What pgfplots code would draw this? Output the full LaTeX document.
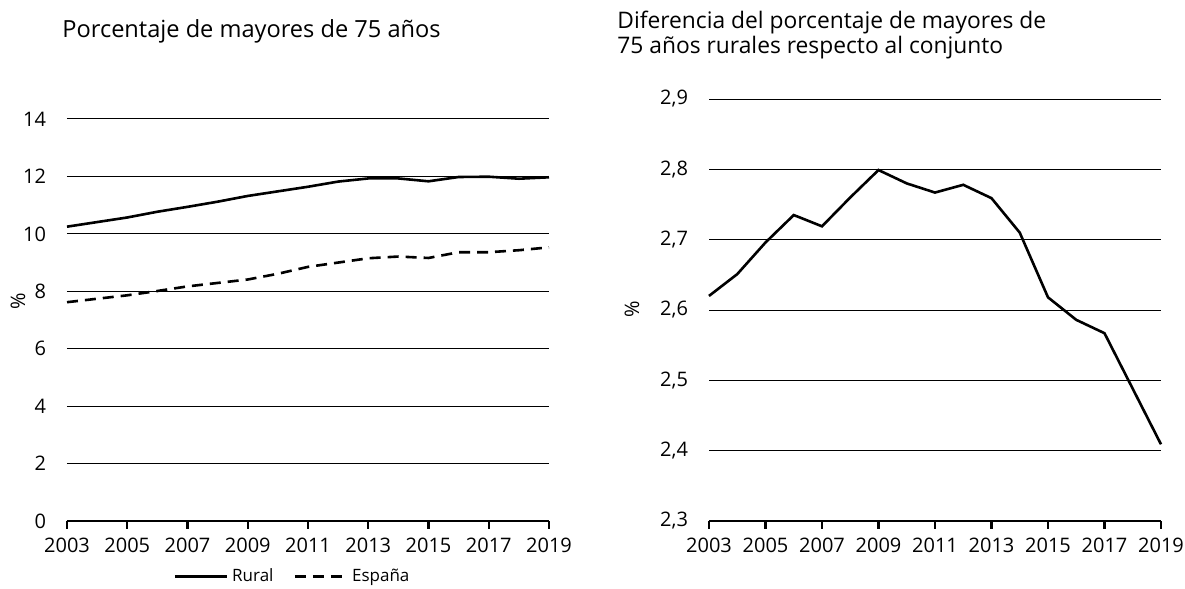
\documentclass[border=0pt]{standalone}
\usepackage{pgfplots}
\pgfplotsset{compat=1.18}
\usepackage{fontspec}
\setmainfont{Open Sans}
\begin{document}
\begin{tikzpicture}
\useasboundingbox (0,0) rectangle (592.5pt,294.5pt);
\pgfplotsset{
  mystyle/.style={
    scale only axis,
    anchor=south west,
    axis x line*=bottom,
    axis y line*=left,
    y axis line style={draw=none},
    every outer x axis line/.append style={line width=1.2pt},
    x axis line style={line width=1.2pt},
    xtick={2003,2005,...,2019},
    xmin=2003, xmax=2019,
    tick align=outside,
    major tick length=4pt,
    xtick style={black, line width=1.1pt},
    ytick style={draw=none},
    ymajorgrids,
    grid style={black, line width=0.5pt},
    tick label style={font=\fontsize{10}{12}\selectfont},
    /pgf/number format/assume math mode=true,
    x tick label style={/pgf/number format/1000 sep={}, yshift=-1pt},
    clip=false,
  }
}
\begin{axis}[mystyle,
  at={(33.5pt,34pt)}, width=241pt, height=201pt,
  ymin=0, ymax=14, ytick={0,2,...,14},
  y tick label style={xshift=-3pt},
  legend style={at={(0.47,-0.103)}, anchor=north, draw=none, legend columns=2, inner sep=1pt,
    font=\fontsize{8.5}{10}\selectfont, /tikz/every even column/.append style={column sep=8pt}},
  legend image code/.code={\draw[#1] (0pt,0pt) -- (26pt,0pt);},
]
\addplot[black, line width=1.3pt] coordinates {
(2003,10.25) (2004,10.41) (2005,10.57) (2006,10.77) (2007,10.94) (2008,11.12) (2009,11.32) (2010,11.48) (2011,11.64) (2012,11.82) (2013,11.93) (2014,11.93) (2015,11.83) (2016,11.98) (2017,11.99) (2018,11.92) (2019,11.97)};
\addlegendentry{Rural}
\addplot[black, line width=1.3pt, dash pattern=on 5.5pt off 3.5pt] coordinates {
(2003,7.62) (2004,7.74) (2005,7.86) (2006,8.01) (2007,8.17) (2008,8.29) (2009,8.41) (2010,8.61) (2011,8.85) (2012,9.0) (2013,9.15) (2014,9.21) (2015,9.16) (2016,9.36) (2017,9.36) (2018,9.43) (2019,9.53)};
\addlegendentry{España}
\end{axis}
\begin{axis}[mystyle,
  at={(354.5pt,34pt)}, width=226pt, height=211pt,
  ymin=2.3, ymax=2.9, ytick={2.3,2.4,...,2.9},
  y tick label style={xshift=-3pt, /pgf/number format/.cd, fixed, fixed zerofill, precision=1, use comma},
]
\addplot[black, line width=1.3pt] coordinates {
(2003,2.620) (2004,2.651) (2005,2.696) (2006,2.735) (2007,2.719) (2008,2.760) (2009,2.799) (2010,2.780) (2011,2.767) (2012,2.778) (2013,2.759) (2014,2.710) (2015,2.618) (2016,2.586) (2017,2.567) (2018,2.488) (2019,2.409)};
\end{axis}
\node[anchor=base west, inner sep=0pt, font=\fontsize{11.8}{13}\selectfont] at (31pt,275.5pt) {Porcentaje de mayores de 75 años};
\node[anchor=north west, align=left, inner sep=0pt, font=\fontsize{11.4}{12.3}\selectfont] at (308.5pt,289pt) {Diferencia del porcentaje de mayores de\\75 años rurales respecto al conjunto};
\node[rotate=90, font=\fontsize{10}{12}\selectfont] at (9pt,144pt) {\%};
\node[rotate=90, font=\fontsize{10}{12}\selectfont] at (316pt,140pt) {\%};
\end{tikzpicture}
\end{document}
